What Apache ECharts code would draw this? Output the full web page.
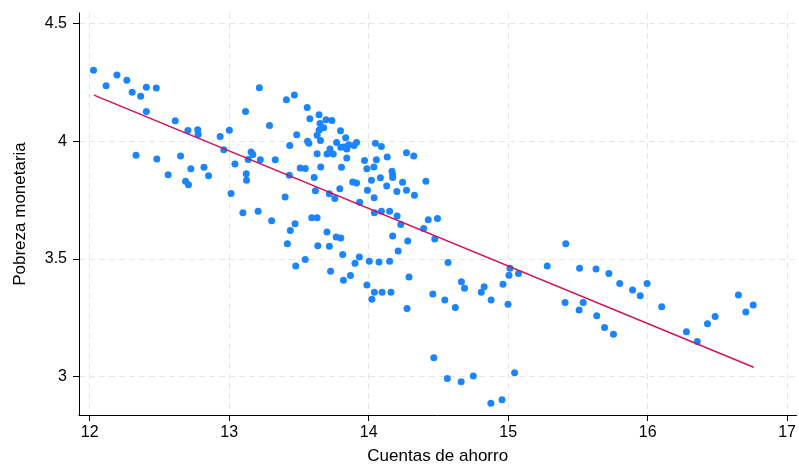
<!DOCTYPE html>
<html>
<head>
<meta charset="utf-8">
<script src="https://cdn.jsdelivr.net/npm/echarts@6/dist/echarts.min.js"></script>
<style>html,body{margin:0;padding:0;background:#fff}#c{width:799px;height:470px}</style>
</head>
<body>
<div id="c"></div>
<script>
// Cuentas de ahorro (x) values
const savings = [
12.027,12.117,12.195,12.266,12.304,12.365,12.406,12.477,13.216,12.406,
12.613,13.117,13.289,12.704,12.774,12.777,13.001,12.935,12.961,12.332,
12.481,12.651,12.725,12.819,12.852,12.562,12.687,12.708,13.041,13.157,
13.169,13.136,13.223,13.330,13.122,13.124,13.013,13.098,13.207,13.304,
13.410,13.467,13.559,13.578,13.644,13.694,13.736,13.651,13.677,13.644,
13.630,13.654,13.484,13.562,13.571,13.798,13.835,13.770,13.800,13.824,
13.857,13.895,13.913,13.843,13.722,13.701,13.746,13.434,13.630,13.843,
13.509,13.545,13.656,13.805,13.431,13.609,13.885,13.913,13.793,13.618,
13.718,13.757,13.401,13.935,13.472,13.592,13.630,14.048,14.091,13.970,
14.055,14.133,14.271,14.323,13.987,14.037,14.167,14.172,14.172,14.084,
14.020,14.243,14.129,14.410,13.991,14.202,14.271,14.328,14.039,14.041,
14.091,14.150,14.204,14.427,14.493,14.230,14.394,13.438,13.417,13.701,
13.767,13.800,13.635,13.718,13.814,13.933,13.902,13.545,13.477,13.727,
13.869,13.819,14.004,14.074,14.150,13.987,14.041,14.096,14.160,14.023,
14.275,14.289,14.211,14.172,14.280,14.474,14.460,14.546,14.569,14.621,
14.665,14.687,14.807,14.828,14.878,14.963,14.999,15.013,15.006,15.074,
15.280,14.467,14.564,14.663,14.750,15.046,14.876,14.956,15.413,15.512,
15.630,15.722,15.800,15.892,15.947,15.996,16.101,15.408,15.538,15.509,
15.635,15.691,15.755,16.278,16.356,16.429,16.484,16.651,16.704,16.757
];
// Pobreza monetaria (y) values
const poverty = [
4.302,4.236,4.282,4.259,4.208,4.191,4.229,4.226,4.227,4.127,
4.087,4.126,4.067,4.046,4.049,4.029,4.047,4.020,3.964,3.941,
3.925,3.937,3.883,3.890,3.854,3.858,3.830,3.815,3.903,3.954,
3.944,3.923,3.921,3.922,3.862,3.834,3.778,3.696,3.703,3.662,
4.176,4.197,4.144,4.096,4.113,4.091,4.088,4.075,4.057,4.047,
4.026,4.003,4.028,4.000,3.992,4.045,4.015,3.995,3.975,3.976,
3.985,3.982,3.995,3.967,3.967,3.946,3.946,3.982,3.947,3.929,
3.886,3.884,3.891,3.890,3.856,3.846,3.827,3.823,3.798,3.790,
3.777,3.757,3.763,3.741,3.650,3.675,3.675,3.992,3.978,3.918,
3.922,3.933,3.951,3.937,3.883,3.891,3.873,3.859,3.846,3.845,
3.834,3.826,3.810,3.830,3.792,3.787,3.792,3.771,3.760,3.696,
3.703,3.703,3.683,3.667,3.672,3.646,3.629,3.621,3.565,3.615,
3.593,3.589,3.556,3.554,3.519,3.508,3.482,3.498,3.470,3.448,
3.430,3.410,3.490,3.487,3.490,3.389,3.359,3.359,3.359,3.329,
3.290,3.423,3.534,3.598,3.576,3.585,3.351,3.326,3.485,3.294,
3.403,3.375,3.359,3.382,3.326,3.392,3.308,3.460,3.431,3.438,
3.470,3.080,2.992,2.978,3.003,3.017,2.887,2.902,3.565,3.460,
3.457,3.438,3.396,3.368,3.344,3.396,3.297,3.315,3.315,3.283,
3.259,3.209,3.180,3.191,3.149,3.225,3.255,3.347,3.275,3.304
];
// Fitted line endpoints
const fitX = [12.03, 16.76];
const fitY = [4.196, 3.040];
// Tick values
const xTicks = [12, 13, 14, 15, 16, 17];
const yTicks = [3, 3.5, 4, 4.5];

const pts = savings.map((v, i) => [v, poverty[i]]);
const fit = fitX.map((v, i) => [v, fitY[i]]);

const FONT = '"Liberation Sans", Arial, Helvetica, sans-serif';
const chart = echarts.init(document.getElementById('c'), null, {renderer: 'canvas'});
chart.setOption({
  animation: false,
  backgroundColor: '#ffffff',
  grid: {left: 79, right: -5, top: 13, bottom: 49, containLabel: false},
  xAxis: {
    type: 'value', min: 11.923, max: 17.067,
    name: 'Cuentas de ahorro', nameLocation: 'middle', nameGap: 33,
    nameTextStyle: {color: '#000', fontSize: 17, fontFamily: FONT},
    axisLine: {show: true, onZero: false, lineStyle: {color: '#000', width: 1}},
    axisTick: {show: true, length: 6, customValues: xTicks, lineStyle: {color: '#000'}},
    axisLabel: {customValues: xTicks, color: '#000', fontSize: 16, fontFamily: FONT, margin: 10},
    splitLine: {show: true, lineStyle: {color: '#e6e6e6', type: [6, 4], width: 1}}
  },
  yAxis: {
    type: 'value', min: 2.837, max: 4.545,
    name: 'Pobreza monetaria', nameLocation: 'middle', nameGap: 50, nameRotate: 90,
    nameTextStyle: {color: '#000', fontSize: 17, fontFamily: FONT},
    axisLine: {show: true, onZero: false, lineStyle: {color: '#000', width: 1}},
    axisTick: {show: true, length: 6, customValues: yTicks, lineStyle: {color: '#000'}},
    axisLabel: {customValues: yTicks, color: '#000', fontSize: 16, fontFamily: FONT, margin: 12},
    splitLine: {show: true, lineStyle: {color: '#e6e6e6', type: [6, 4], width: 1}}
  },
  series: [
    {
      type: 'scatter', data: pts, symbol: 'circle', symbolSize: 7,
      itemStyle: {color: '#1a85ff', opacity: 1}, z: 2
    },
    {
      type: 'line', data: fit, symbol: 'none', showSymbol: false,
      lineStyle: {color: '#d41159', width: 1.5}, z: 3
    }
  ]
});
</script>
</body>
</html>
